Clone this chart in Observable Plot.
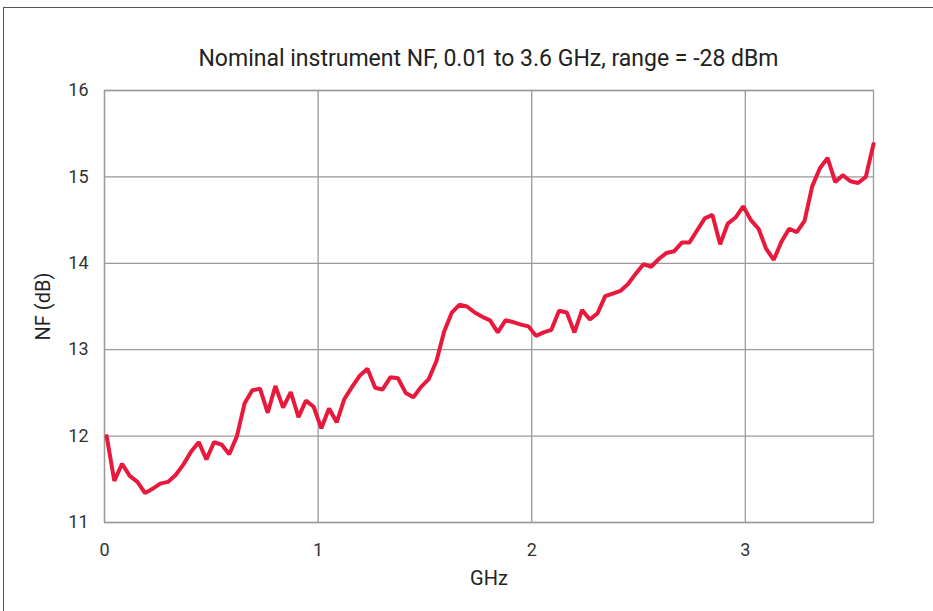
<!DOCTYPE html>
<html>
<head>
<meta charset="utf-8">
<script src="https://cdn.jsdelivr.net/npm/d3@7"></script>
<script src="https://cdn.jsdelivr.net/npm/@observablehq/plot@0.6"></script>
<style>
  html, body { margin: 0; padding: 0; background: #fff; }
  #wrap { position: relative; width: 933px; height: 611px; overflow: hidden; font-family: Roboto, "Liberation Sans", sans-serif; }
  #border { position: absolute; left: 3px; top: 7px; width: 1000px; height: 700px; border-left: 1.5px solid #555; border-top: 1.5px solid #555; box-sizing: border-box; }
  #title { position: absolute; left: 90px; width: 797px; top: 47px; line-height: 24px; text-align: center; font-size: 23px; color: #222; white-space: nowrap; }
  #chart { position: absolute; left: 0; top: 0; }
</style>
</head>
<body>
<div id="wrap">
  <div id="border"></div>
  <div id="title">Nominal instrument NF, 0.01 to 3.6 GHz, range = -28 dBm</div>
  <div id="chart"></div>
</div>
<script>
// Frequencies (GHz)
const freqGHz = [
  0.010, 0.046, 0.082, 0.118, 0.154, 0.190, 0.225, 0.261, 0.297, 0.333,
  0.369, 0.405, 0.441, 0.477, 0.513, 0.549, 0.584, 0.620, 0.656, 0.692,
  0.728, 0.764, 0.800, 0.836, 0.872, 0.908, 0.943, 0.979, 1.015, 1.051,
  1.087, 1.123, 1.159, 1.195, 1.231, 1.267, 1.302, 1.338, 1.374, 1.410,
  1.446, 1.482, 1.518, 1.554, 1.590, 1.626, 1.661, 1.697, 1.733, 1.769,
  1.805, 1.841, 1.877, 1.913, 1.949, 1.985, 2.020, 2.056, 2.092, 2.128,
  2.164, 2.200, 2.236, 2.272, 2.308, 2.344, 2.379, 2.415, 2.451, 2.487,
  2.523, 2.559, 2.595, 2.631, 2.667, 2.703, 2.738, 2.774, 2.810, 2.846,
  2.882, 2.918, 2.954, 2.990, 3.026, 3.062, 3.097, 3.133, 3.169, 3.205,
  3.241, 3.277, 3.313, 3.349, 3.385, 3.421, 3.456, 3.492, 3.528, 3.564,
  3.600
];
// Noise figure (dB)
const nfDB = [
  12.00, 11.48, 11.68, 11.54, 11.47, 11.34, 11.39, 11.45, 11.47, 11.55,
  11.67, 11.82, 11.93, 11.73, 11.93, 11.90, 11.79, 12.00, 12.38, 12.53,
  12.55, 12.27, 12.58, 12.33, 12.51, 12.22, 12.41, 12.34, 12.09, 12.32,
  12.16, 12.43, 12.57, 12.70, 12.78, 12.56, 12.54, 12.68, 12.67, 12.50,
  12.45, 12.57, 12.66, 12.87, 13.21, 13.43, 13.52, 13.50, 13.43, 13.38,
  13.34, 13.20, 13.34, 13.32, 13.29, 13.27, 13.16, 13.20, 13.23, 13.45,
  13.43, 13.20, 13.46, 13.35, 13.42, 13.62, 13.65, 13.68, 13.76, 13.88,
  13.99, 13.96, 14.05, 14.12, 14.14, 14.24, 14.24, 14.38, 14.52, 14.56,
  14.22, 14.46, 14.53, 14.66, 14.50, 14.40, 14.17, 14.04, 14.25, 14.40,
  14.36, 14.49, 14.89, 15.10, 15.22, 14.94, 15.02, 14.95, 14.93, 15.00,
  15.38
];
const xTicks = [0, 1, 2, 3];
const yTicks = [11, 12, 13, 14, 15, 16];

const data = freqGHz.map((f, i) => ({f, nf: nfDB[i]}));

const plot = Plot.plot({
  width: 933,
  height: 611,
  marginLeft: 104,
  marginRight: 60,
  marginTop: 90,
  marginBottom: 89,
  style: {fontFamily: "Roboto, 'Liberation Sans', sans-serif", fontSize: "18px", color: "#333", background: "transparent", overflow: "visible"},
  x: {domain: [0, 3.6]},
  y: {domain: [11, 16]},
  marks: [
    Plot.gridX(xTicks, {stroke: "#9a9a9a", strokeOpacity: 1, strokeWidth: 1.3}),
    Plot.gridY(yTicks, {stroke: "#9a9a9a", strokeOpacity: 1, strokeWidth: 1.3}),
    Plot.frame({stroke: "#9a9a9a", strokeWidth: 1.3}),
    Plot.axisX(xTicks, {tickSize: 0, tickPadding: 21, tickFormat: d3.format("d"), label: "GHz", labelAnchor: "center", labelOffset: 62, labelArrow: "none", fontSize: 18}),
    Plot.axisY(yTicks, {tickSize: 0, tickPadding: 16, tickFormat: d3.format("d"), label: "NF (dB)", labelAnchor: "center", labelOffset: 69, labelArrow: "none", fontSize: 18}),
    Plot.line(data, {x: "f", y: "nf", stroke: "#e8193c", strokeWidth: 4, strokeLinejoin: "miter"})
  ]
});
plot.querySelectorAll("g[aria-label='x-axis label'] text, g[aria-label='y-axis label'] text").forEach(t => { t.setAttribute("font-size", "20"); t.setAttribute("fill", "#222"); });
document.getElementById("chart").appendChild(plot);
</script>
</body>
</html>
